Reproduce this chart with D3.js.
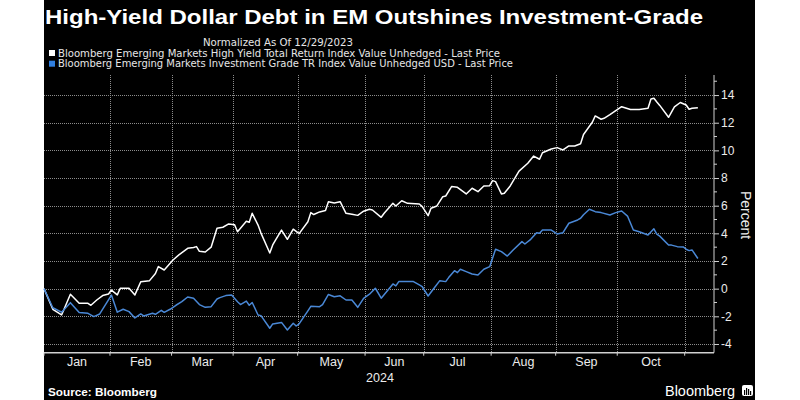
<!DOCTYPE html>
<html>
<head>
<meta charset="utf-8">
<script src="https://cdn.jsdelivr.net/npm/d3@7"></script>
<style>
  html, body { margin: 0; padding: 0; background: #ffffff; }
  svg { display: block; }
</style>
</head>
<body>
<svg id="chart" width="800" height="400"></svg>
<script>
// ---------------- DATA ----------------
const titleText = "High-Yield Dollar Debt in EM Outshines Investment-Grade";
const subtitleText = "Normalized As Of 12/29/2023";
const seriesNames = [
  "Bloomberg Emerging Markets High Yield Total Return Index Value Unhedged - Last Price",
  "Bloomberg Emerging Markets Investment Grade TR Index Value Unhedged USD - Last Price"
];
const monthLabels = ["Jan","Feb","Mar","Apr","May","Jun","Jul","Aug","Sep","Oct"];
const monthStarts = ["2024-01-01","2024-02-01","2024-03-01","2024-04-01","2024-05-01","2024-06-01",
                     "2024-07-01","2024-08-01","2024-09-01","2024-10-01","2024-11-01"];
const yearLabel = "2024";
const yTicks = [-4,-2,0,2,4,6,8,10,12,14];
const yLabel = "Percent";
const sourceText = "Source: Bloomberg";

// High Yield (white)
const hyDates = ["2024-01-01","2024-01-04","2024-01-09","2024-01-12","2024-01-17","2024-01-22","2024-01-23","2024-01-25","2024-01-29","2024-01-31",
"2024-02-01","2024-02-05","2024-02-06","2024-02-09","2024-02-13","2024-02-15","2024-02-20","2024-02-22","2024-02-23","2024-02-27",
"2024-03-01","2024-03-05","2024-03-08","2024-03-12","2024-03-13","2024-03-14","2024-03-18","2024-03-20","2024-03-22","2024-03-26","2024-03-28",
"2024-04-01","2024-04-02","2024-04-05","2024-04-08","2024-04-09","2024-04-11","2024-04-12","2024-04-17","2024-04-18","2024-04-19","2024-04-23","2024-04-25","2024-04-29",
"2024-05-01","2024-05-06","2024-05-07","2024-05-08","2024-05-10","2024-05-14","2024-05-15","2024-05-17","2024-05-21","2024-05-23","2024-05-27","2024-05-29","2024-05-31",
"2024-06-04","2024-06-05","2024-06-10","2024-06-11","2024-06-14","2024-06-17","2024-06-19","2024-06-21","2024-06-27","2024-06-28",
"2024-07-02","2024-07-03","2024-07-05","2024-07-09","2024-07-10","2024-07-12","2024-07-16","2024-07-19","2024-07-23","2024-07-25","2024-07-29","2024-07-31",
"2024-08-01","2024-08-02","2024-08-06","2024-08-07","2024-08-09","2024-08-14","2024-08-19","2024-08-21","2024-08-23","2024-08-26","2024-08-29",
"2024-09-02","2024-09-04","2024-09-06","2024-09-10","2024-09-12","2024-09-13","2024-09-18","2024-09-19","2024-09-23","2024-09-24","2024-09-26",
"2024-10-02","2024-10-07","2024-10-10","2024-10-15","2024-10-16","2024-10-17","2024-10-18","2024-10-21","2024-10-24","2024-10-28","2024-10-30",
"2024-11-01","2024-11-04","2024-11-05","2024-11-07"];
const hyValues = [0,-1.49,-1.90,-0.40,-1.06,-1.06,-1.20,-0.82,-0.50,-0.38,
-0.10,-0.45,0.03,0.03,-0.45,0.50,0.58,1.10,1.60,1.35,
2.07,2.44,2.92,2.98,3.04,2.70,2.65,3.00,4.37,4.44,4.68,
4.62,4.12,4.87,4.80,5.45,4.60,4.02,2.58,3.16,3.52,4.24,3.57,4.30,
3.98,4.84,5.50,5.36,5.55,5.65,6.29,6.20,6.29,5.45,5.38,5.30,5.60,
5.74,5.69,5.16,5.45,6.17,5.98,6.36,6.17,6.12,5.93,
5.28,5.81,5.98,6.65,6.70,7.38,7.33,6.85,7.26,7.01,7.43,7.45,
7.81,7.74,6.85,6.90,7.43,8.50,9.07,9.59,9.36,9.83,10.10,
10.20,10.03,10.32,10.32,10.48,11.15,12.03,12.49,12.25,12.32,12.58,
13.16,12.95,12.95,13.04,13.72,13.77,13.50,13.25,12.39,13.14,13.46,
13.28,12.97,13.04,13.09];

// Investment Grade (blue)
const igDates = ["2024-01-01","2024-01-04","2024-01-09","2024-01-12","2024-01-17","2024-01-22","2024-01-24","2024-01-26",
"2024-02-01","2024-02-05","2024-02-07","2024-02-09","2024-02-13","2024-02-15","2024-02-16","2024-02-21","2024-02-22","2024-02-26","2024-02-27","2024-02-29",
"2024-03-04","2024-03-06","2024-03-08","2024-03-12","2024-03-14","2024-03-18","2024-03-20","2024-03-22","2024-03-25","2024-03-27","2024-03-29",
"2024-04-02","2024-04-03","2024-04-05","2024-04-08","2024-04-09","2024-04-11","2024-04-12","2024-04-17","2024-04-18","2024-04-23","2024-04-25","2024-04-29","2024-04-30",
"2024-05-01","2024-05-06","2024-05-07","2024-05-10","2024-05-13","2024-05-15","2024-05-17","2024-05-21","2024-05-23","2024-05-27","2024-05-29","2024-05-31",
"2024-06-04","2024-06-06","2024-06-10","2024-06-14","2024-06-17","2024-06-18","2024-06-25","2024-06-27","2024-06-28",
"2024-07-02","2024-07-04","2024-07-08","2024-07-10","2024-07-11","2024-07-15","2024-07-16","2024-07-17","2024-07-19","2024-07-23","2024-07-25","2024-07-29","2024-07-31",
"2024-08-02","2024-08-06","2024-08-08","2024-08-12","2024-08-15","2024-08-16","2024-08-20","2024-08-22","2024-08-23","2024-08-26","2024-08-29",
"2024-09-02","2024-09-04","2024-09-06","2024-09-11","2024-09-12","2024-09-13","2024-09-17","2024-09-19","2024-09-23","2024-09-26","2024-09-30",
"2024-10-02","2024-10-04","2024-10-08","2024-10-10","2024-10-15","2024-10-17","2024-10-18","2024-10-21","2024-10-24","2024-10-25","2024-10-29","2024-10-31",
"2024-11-01","2024-11-04","2024-11-05","2024-11-07"];
const igValues = [0,-1.38,-1.70,-1.01,-1.72,-1.78,-2.02,-1.83,
-0.46,-1.70,-1.49,-1.66,-2.12,-1.83,-1.97,-1.78,-1.85,-1.57,-1.71,-1.49,
-1.20,-0.94,-0.60,-0.69,-1.15,-1.35,-1.30,-0.75,-0.65,-0.50,-0.46,
-0.95,-1.15,-0.90,-1.20,-1.00,-1.90,-1.95,-2.86,-2.55,-2.44,-2.99,-2.50,-2.70,
-2.55,-1.60,-1.28,-1.30,-1.15,-0.42,-0.58,-0.52,-0.82,-0.82,-1.35,-0.70,
-0.40,0.03,-0.69,0.34,0.20,0.51,0.51,0.27,0.14,
-0.53,0.03,0.58,0.51,0.80,1.30,1.16,1.40,1.23,1.06,0.99,1.40,1.59,
2.85,2.68,2.36,2.80,3.40,3.23,3.57,4.05,4.00,4.24,4.24,
3.96,4.05,4.73,4.97,5.09,5.35,5.74,5.57,5.50,5.33,5.50,
5.62,5.25,4.24,4.12,3.88,4.33,3.95,3.80,3.16,3.15,3.04,3.02,
2.85,2.75,2.80,2.18];

// ---------------- DRAW ----------------
const svg = d3.select("#chart");
const parse = d3.utcParse("%Y-%m-%d");
const origin = parse("2024-01-01"); // a Monday
// trading-day (weekday) index since the start of the year
function wd(dateStr) {
  const d = d3.utcDay.count(origin, parse(dateStr));
  return 5 * Math.floor(d / 7) + Math.min(d % 7, 5);
}

const plot = { left: 44, right: 714, top: 75, bottom: 352.7 };
const x = d3.scaleLinear().domain([0, 228.5]).range([plot.left, plot.right]);
const y = d3.scaleLinear().domain([-4.63, 15.45]).range([plot.bottom, plot.top]);

// background
svg.append("rect").attr("x", 0).attr("y", 0).attr("width", 800).attr("height", 400).attr("fill", "#ffffff");
svg.append("rect").attr("x", 44).attr("y", 0).attr("width", 711).attr("height", 400).attr("fill", "#000000");

// title
svg.append("text").attr("x", 45).attr("y", 24)
  .attr("font-family", "'Liberation Sans', Arial, sans-serif")
  .attr("font-weight", "bold").attr("font-size", 21)
  .attr("fill", "#ffffff")
  .attr("textLength", 658).attr("lengthAdjust", "spacingAndGlyphs")
  .text(titleText);

const narrow = "'Liberation Sans Narrow', 'DejaVu Sans Condensed', 'Liberation Sans', sans-serif";
svg.append("text").attr("x", 203).attr("y", 45.5)
  .attr("font-family", narrow).attr("font-size", 10.5).attr("fill", "#e6e6e6")
  .attr("textLength", 150).attr("lengthAdjust", "spacingAndGlyphs")
  .text(subtitleText);

const legendColors = ["#ffffff", "#2f7fe0"];
const legendEnds = [500, 513];
seriesNames.forEach((name, i) => {
  const cy = 53 + i * 10.7;
  svg.append("rect").attr("x", 49).attr("y", cy - 3).attr("width", 6).attr("height", 6).attr("fill", legendColors[i]);
  svg.append("text").attr("x", 58).attr("y", cy + 3.5)
    .attr("font-family", narrow).attr("font-size", 10.5).attr("fill", "#e6e6e6")
    .attr("textLength", legendEnds[i] - 58).attr("lengthAdjust", "spacingAndGlyphs")
    .text(name);
});

// grid
const grid = svg.append("g");
grid.selectAll("line.h").data(yTicks).enter().append("line")
  .attr("x1", plot.left).attr("x2", plot.right)
  .attr("y1", d => Math.round(y(d)) + 0.5).attr("y2", d => Math.round(y(d)) + 0.5)
  .attr("stroke", "#8c8c8c").attr("stroke-width", 1).attr("stroke-dasharray", "1,1");
const monthIdx = monthStarts.map(s => Math.max(0, wd(s) - 0.5));
grid.selectAll("line.v").data(monthIdx.slice(1)).enter().append("line")
  .attr("x1", d => Math.round(x(d)) + 0.5).attr("x2", d => Math.round(x(d)) + 0.5)
  .attr("y1", plot.top).attr("y2", plot.bottom)
  .attr("stroke", "#8c8c8c").attr("stroke-width", 1).attr("stroke-dasharray", "1,1");

// lines
const line = d3.line().x(d => x(d[0])).y(d => y(d[1]));
const hy = hyDates.map((d, i) => [wd(d), hyValues[i]]);
const ig = igDates.map((d, i) => [wd(d), igValues[i]]);
svg.append("path").datum(hy).attr("d", line)
  .attr("fill", "none").attr("stroke", "#ffffff").attr("stroke-width", 1.5).attr("stroke-linejoin", "round");
svg.append("path").datum(ig).attr("d", line)
  .attr("fill", "none").attr("stroke", "#4a88d6").attr("stroke-width", 1.5).attr("stroke-linejoin", "round");

// y axis (right)
const axisColor = "#d0d0d0";
const yAxis = d3.axisRight(y).tickValues(yTicks).tickSize(5).tickPadding(2)
  .tickFormat(d => d < 0 ? "-" + Math.abs(d) : String(d));
const gy = svg.append("g").attr("transform", `translate(${plot.right},0)`).call(yAxis);
gy.select(".domain").remove();
gy.selectAll(".tick line").attr("stroke", axisColor);
gy.selectAll(".tick text").attr("fill", "#ececec").attr("font-size", 12)
  .attr("font-family", "'Liberation Sans', Arial, sans-serif");
// minor ticks
const minor = d3.range(-4, 16, 1).filter(v => v % 2 !== 0);
svg.append("g").selectAll("line").data(minor).enter().append("line")
  .attr("x1", plot.right).attr("x2", plot.right + 3)
  .attr("y1", d => y(d)).attr("y2", d => y(d)).attr("stroke", axisColor);
svg.append("line").attr("x1", plot.right).attr("x2", plot.right)
  .attr("y1", plot.top).attr("y2", plot.bottom).attr("stroke", axisColor).attr("stroke-width", 1);

svg.append("text")
  .attr("transform", `translate(741,215) rotate(90)`)
  .attr("text-anchor", "middle")
  .attr("font-family", "'Liberation Sans', Arial, sans-serif").attr("font-size", 14)
  .attr("fill", "#ececec").text(yLabel);

// x axis
svg.append("line").attr("x1", plot.left).attr("x2", plot.right)
  .attr("y1", plot.bottom).attr("y2", plot.bottom).attr("stroke", axisColor).attr("stroke-width", 1.5);
svg.append("g").selectAll("line").data(monthIdx).enter().append("line")
  .attr("x1", d => x(d)).attr("x2", d => x(d))
  .attr("y1", plot.bottom).attr("y2", plot.bottom + 3).attr("stroke", axisColor);
svg.append("g").selectAll("text").data(monthLabels).enter().append("text")
  .attr("x", (d, i) => (x(monthIdx[i]) + x(monthIdx[i + 1])) / 2)
  .attr("y", 366).attr("text-anchor", "middle")
  .attr("font-family", "'Liberation Sans', Arial, sans-serif").attr("font-size", 12.5)
  .attr("fill", "#ececec").text(d => d);
svg.append("text").attr("x", 380).attr("y", 381.5).attr("text-anchor", "middle")
  .attr("font-family", "'Liberation Sans', Arial, sans-serif").attr("font-size", 12.5)
  .attr("fill", "#ececec").text(yearLabel);

// footer
svg.append("text").attr("x", 48).attr("y", 395.5)
  .attr("font-family", "'Liberation Sans', Arial, sans-serif").attr("font-weight", "bold").attr("font-size", 11)
  .attr("fill", "#ffffff").attr("textLength", 109).attr("lengthAdjust", "spacingAndGlyphs")
  .text(sourceText);
svg.append("text").attr("x", 665).attr("y", 395.5)
  .attr("font-family", "'Liberation Sans', Arial, sans-serif").attr("font-size", 14)
  .attr("fill", "#ffffff").attr("textLength", 70).attr("lengthAdjust", "spacingAndGlyphs")
  .text("Bloomberg");
const logo = svg.append("g").attr("transform", "translate(742,385)");
logo.append("rect").attr("width", 11).attr("height", 11).attr("rx", 2).attr("fill", "#ffffff");
[[2,5,5],[4,3,7],[6,4,6],[8,6,4]].forEach(b => {
  logo.append("rect").attr("x", b[0]).attr("y", b[1]).attr("width", 1.2).attr("height", b[2]).attr("fill", "#000000");
});
</script>
</body>
</html>
